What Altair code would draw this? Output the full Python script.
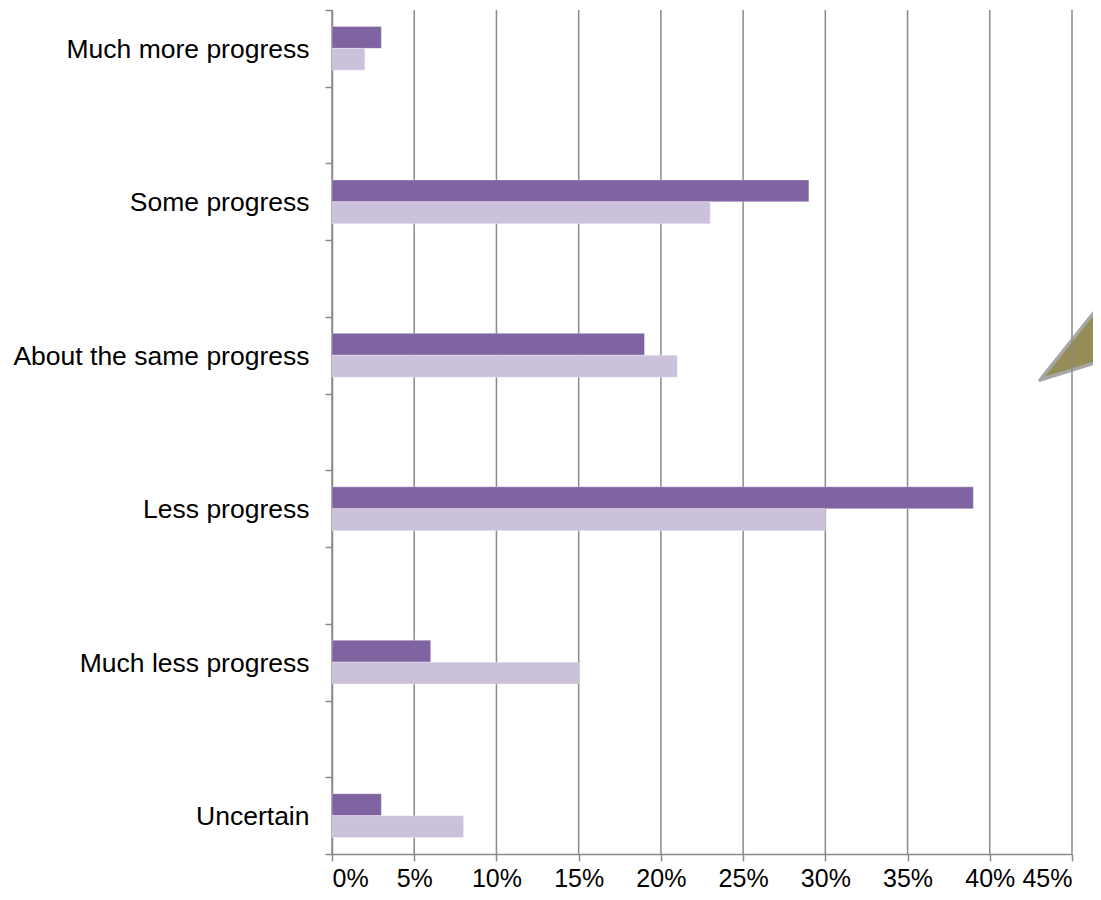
import altair as alt
import pandas as pd

# ---- data ----
categories = ["Much more progress", "Some progress", "About the same progress",
              "Less progress", "Much less progress", "Uncertain"]
series_names = ["Series A", "Series B"]
series_a = [3, 29, 19, 39, 6, 3]
series_b = [2, 23, 21, 30, 15, 8]
x_ticks = [0, 5, 10, 15, 20, 25, 30, 35, 40, 45]
colors = ["#8064A2", "#CCC1DA"]

rows = []
for c, a, b in zip(categories, series_a, series_b):
    rows.append({"category": c, "series": series_names[0], "value": a})
    rows.append({"category": c, "series": series_names[1], "value": b})
df = pd.DataFrame(rows)

# band domain with blank spacer slots between categories (ticks at every slot edge)
y_domain = []
for i, c in enumerate(categories):
    y_domain.append(c)
    if i < len(categories) - 1:
        y_domain.append(" " * (i + 1))

W, H = 740, 844
FONT = "Liberation Sans"
GRID = "#8A8A8A"

# decorative callout shape (partly off the right edge), in plot pixels
callout_triangle = {"x": 748, "y": 320, "path": "M -40 50 L 82 -102.5 L 82 12 Z"}

x_scale = alt.Scale(domain=[0, 45], nice=False, zero=True)
x_axis = alt.Axis(values=x_ticks, labelExpr="datum.value + '%'", grid=False,
                  tickSize=7, tickColor=GRID, tickWidth=1.5,
                  domainColor=GRID, domainWidth=1.5,
                  labelFont=FONT, labelFontSize=25, labelColor="black",
                  labelPadding=5, title=None)
one = pd.DataFrame({"d": [0]})

triangle = alt.Chart(one).mark_point(
    shape=callout_triangle["path"], size=4, filled=True, fill="#968C55",
    stroke="#A6A6A6", strokeWidth=3.5, strokeJoin="round", opacity=1
).encode(x=alt.value(callout_triangle["x"]), y=alt.value(callout_triangle["y"]))

grid = alt.Chart(pd.DataFrame({"tick": x_ticks})).mark_rule(
    color=GRID, strokeWidth=1.5
).encode(x=alt.X("tick:Q", scale=x_scale, axis=x_axis))

bars = alt.Chart(df).mark_bar(stroke="white", strokeWidth=1, strokeOpacity=0.3).encode(
    x=alt.X("value:Q", scale=x_scale, axis=x_axis),
    y=alt.Y("category:N", sort=y_domain,
            scale=alt.Scale(domain=y_domain, paddingInner=0, paddingOuter=0),
            axis=alt.Axis(tickBand="extent", tickSize=7, tickColor=GRID, tickWidth=1.5,
                          domainColor=GRID, domainWidth=1.5,
                          labelFont=FONT, labelFontSize=26.5, labelColor="black",
                          labelPadding=16, labelLimit=600, labelOffset=1, title=None)),
    yOffset=alt.YOffset("series:N", sort=series_names,
                        scale=alt.Scale(domain=series_names, paddingInner=0, paddingOuter=0.75)),
    color=alt.Color("series:N", scale=alt.Scale(domain=series_names, range=colors), legend=None),
)

chart = alt.layer(triangle, grid, bars).properties(
    width=W, height=H,
    autosize=alt.AutoSizeParams(type="none"),
    padding={"left": 324, "top": 2, "right": 21, "bottom": 38},
    background="white",
).configure_view(stroke=None)

chart.save("out.html", embed_options={"renderer": "svg", "actions": False})
